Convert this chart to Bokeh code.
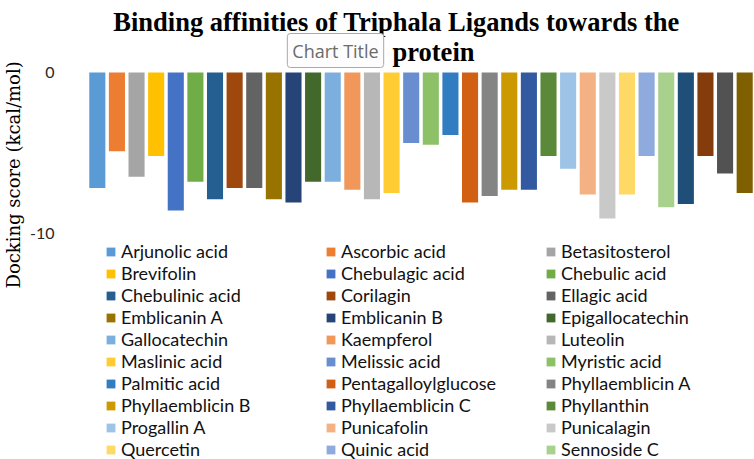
from math import pi
from bokeh.plotting import figure
from bokeh.models import (ColumnDataSource, FactorRange, Range1d, FixedTicker,
                          Legend, LegendItem, Label, Title)
from bokeh.embed import file_html
from bokeh.resources import INLINE

# ---------------- data ----------------
ligands = [
    "Arjunolic acid", "Ascorbic acid", "Betasitosterol", "Brevifolin",
    "Chebulagic acid", "Chebulic acid", "Chebulinic acid", "Corilagin",
    "Ellagic acid", "Emblicanin A", "Emblicanin B", "Epigallocatechin",
    "Gallocatechin", "Kaempferol", "Luteolin", "Maslinic acid",
    "Melissic acid", "Myristic acid", "Palmitic acid", "Pentagalloylglucose",
    "Phyllaemblicin A", "Phyllaemblicin B", "Phyllaemblicin C", "Phyllanthin",
    "Progallin A", "Punicafolin", "Punicalagin", "Quercetin",
    "Quinic acid", "Sennoside C", "Shikimic acid", "Terchebin",
    "Terflavin A", "Terflavin B",
]
scores = [
    -7.2, -4.9, -6.5, -5.2, -8.6, -6.8, -7.9, -7.2, -7.2, -7.9, -8.1, -6.8,
    -6.8, -7.3, -7.9, -7.5, -4.4, -4.5, -3.9, -8.1, -7.7, -7.3, -7.3, -5.2,
    -6.0, -7.6, -9.1, -7.6, -5.2, -8.4, -8.2, -5.2, -6.3, -7.5,
]
y_ticks = [0, -10]
y_tick_labels = {0: "0", -10: "-10"}
legend_count = 30   # entries visible in the legend

# ---------------- style ----------------
COLORS = [
    "#5B9BD5", "#ED7D31", "#A5A5A5", "#FFC000", "#4472C4", "#70AD47",
    "#255E91", "#9E480E", "#636363", "#997300", "#264478", "#43682B",
    "#7CAFDD", "#F1975A", "#B7B7B7", "#FFCD33", "#698ED0", "#8CC168",
    "#327DC2", "#D26012", "#848484", "#CC9A00", "#335AA1", "#5A8A39",
    "#9DC3E6", "#F4B183", "#C9C9C9", "#FFD966", "#8FAADC", "#A9D18E",
    "#1F4E79", "#843C0C", "#525252", "#7F6000",
]

W, H = 754, 459
FL = 86            # frame left (canvas px)
ZERO_Y = 72        # canvas y of value 0
PX_PER_UNIT = 16.05
y_end = ZERO_Y / PX_PER_UNIT
y_start = -(H - ZERO_Y) / PX_PER_UNIT

src = ColumnDataSource(dict(ligand=ligands, score=scores,
                            color=COLORS[:len(ligands)]))

p = figure(width=W, height=H, output_backend="svg", toolbar_location=None,
           title=None,
           x_range=FactorRange(*ligands, range_padding=0),
           y_range=Range1d(y_start, y_end),
           x_axis_location=None,
           min_border_left=FL, min_border_right=0, min_border_top=0,
           min_border_bottom=0)
p.outline_line_color = None
p.xgrid.visible = False
p.ygrid.visible = False
p.background_fill_color = "white"
p.border_fill_color = "white"

bars = p.vbar(x="ligand", top=0, bottom="score", width=0.82, source=src,
              fill_color="color", line_color=None)

ax = p.yaxis[0]
ax.ticker = FixedTicker(ticks=y_ticks)
ax.major_label_overrides = y_tick_labels
ax.axis_line_color = None
ax.major_tick_line_color = None
ax.minor_tick_line_color = None
ax.major_tick_in = 0
ax.major_tick_out = 0
ax.major_label_standoff = 33
ax.major_label_text_font = "Lato"
ax.major_label_text_font_size = "16px"
ax.major_label_text_color = "#262626"

# y axis title, placed in the left panel outside the axis
p.add_layout(Title(text="Docking score (kcal/mol)", align="left",
                   offset=H - 288, vertical_align="middle", standoff=3,
                   text_font="DejaVu Serif", text_font_style="normal",
                   text_font_size="18px", text_color="#000000"), "left")

items = [LegendItem(label=ligands[i], renderers=[bars], index=i)
         for i in range(legend_count)]
legend = Legend(items=items, ncols=3, orientation="horizontal",
                location=(18, -1), glyph_width=11, glyph_height=11,
                label_standoff=5, label_width=204, label_height=22,
                spacing=0, padding=0, margin=0,
                border_line_color=None, background_fill_alpha=0,
                label_text_font="Lato", label_text_font_size="18px",
                label_text_color="#111111")
p.add_layout(legend)

# chart title (two lines), frame-relative screen coordinates
p.add_layout(Label(x=395 - FL, y=H - 21, x_units="screen", y_units="screen",
                   text="Binding affinities of Triphala Ligands towards the",
                   text_align="center", text_baseline="alphabetic",
                   text_font="Liberation Serif", text_font_style="bold",
                   text_font_size="26.5px", text_color="#000000"))
p.add_layout(Label(x=432 - FL, y=H - 51, x_units="screen", y_units="screen",
                   text="protein",
                   text_align="center", text_baseline="alphabetic",
                   text_font="Liberation Serif", text_font_style="bold",
                   text_font_size="26.5px", text_color="#000000"))

# "Chart Title" hover box seen in the screenshot
p.add_layout(Label(x=334 - FL, y=H - 50, x_units="screen", y_units="screen",
                   text="Chart Title", text_align="center",
                   text_baseline="middle", text_font="Open Sans",
                   text_font_size="18px", text_color="#6b6b6b",
                   background_fill_color="#fdfdfd",
                   border_line_color="#a9a9a9", border_line_width=1,
                   padding=5, border_radius=3))

open("out.html", "w").write(file_html(p, INLINE))
